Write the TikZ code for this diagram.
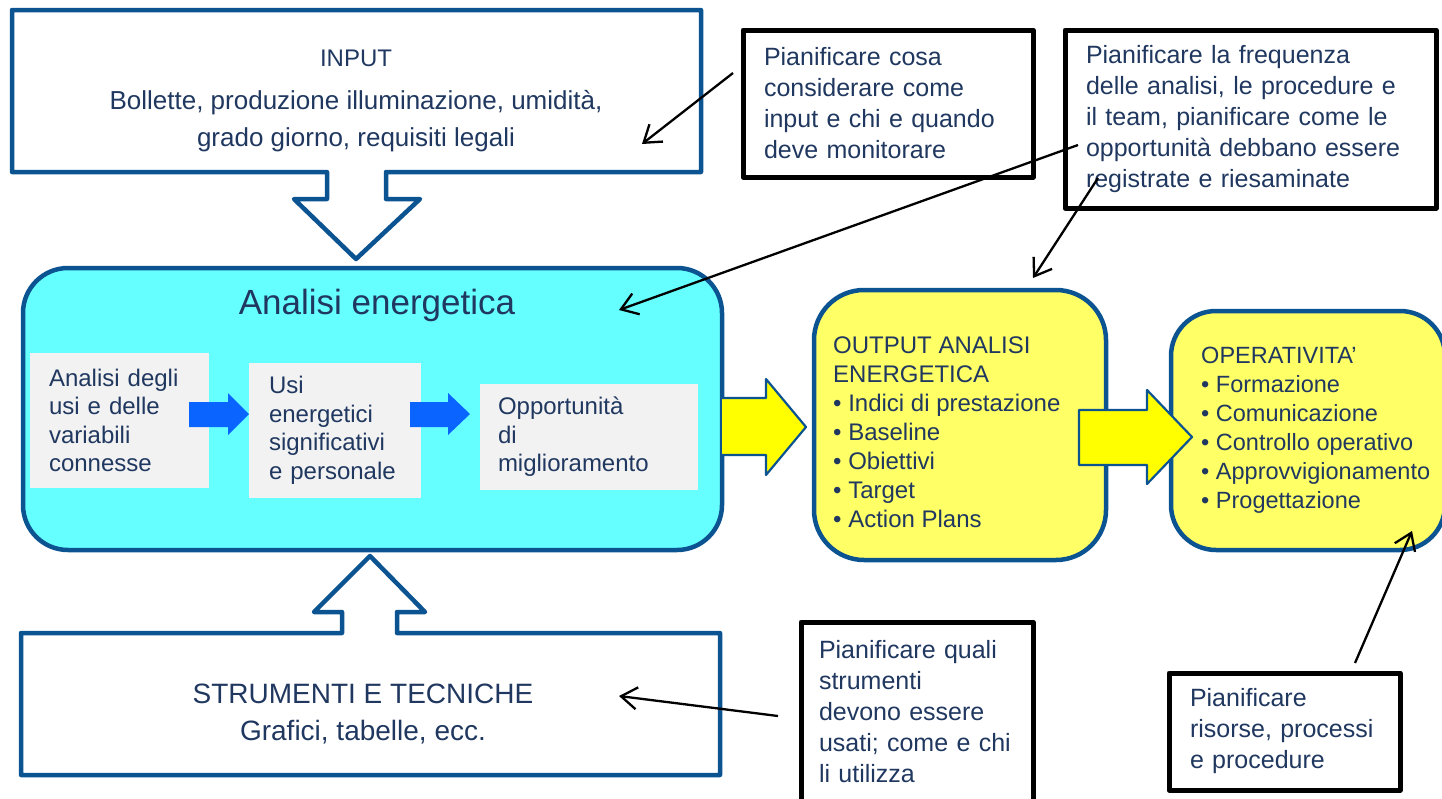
\documentclass[tikz,border=0pt]{standalone}
\usepackage{fontspec}
\setmainfont{Liberation Sans}
\usetikzlibrary{arrows.meta}

\definecolor{boxblue}{RGB}{12,84,145}
\definecolor{ink}{RGB}{32,56,96}
\definecolor{cyanfill}{RGB}{102,255,255}
\definecolor{paleyellow}{RGB}{255,255,102}
\definecolor{arrowyellow}{RGB}{255,255,0}
\definecolor{arrowblue}{RGB}{10,100,255}
\definecolor{panelgray}{RGB}{242,242,242}

\newcommand\setfs[2]{\fontsize{#1}{#2}\selectfont}

\begin{document}
\begin{tikzpicture}[x=1pt,y=-1pt,line join=round,
  every node/.style={text=ink,inner sep=0pt},
  outline/.style={draw=boxblue,line width=4.5pt},
  roundbox/.style={outline,rounded corners=#1},
  inbox/.style={fill=panelgray,align=left,font=\setfs{24}{28.5}},
  callout/.style={draw=black,line width=5pt,fill=white,align=left,font=\setfs{25}{31}},
  bluearrow/.style={fill=arrowblue},
  yellowarrow/.style={fill=arrowyellow,draw=boxblue,line width=2.2pt},
  note/.style={draw=black,line width=2.3pt,-{Straight Barb[length=16pt,width=22pt]}}
]
\useasboundingbox (0,0) rectangle (1442,798);

% INPUT box with its downward block arrow
\draw[outline,fill=white] (12,10) -- (701,10) -- (701,172) -- (386,172) -- (386,199)
  -- (420,199) -- (356,259) -- (294,199) -- (327,199) -- (327,172) -- (12,172) -- cycle;
\node[align=center,font=\setfs{26}{37}] (input) at (356,100.5)
  {{\setfs{24}{29}INPUT}\\[6pt]Bollette, produzione illuminazione, umidità,\\grado giorno, requisiti legali};

% STRUMENTI E TECNICHE box with its upward block arrow
\draw[outline,fill=white] (21,633) -- (342,633) -- (342,612) -- (314,612) -- (370,556)
  -- (425,612) -- (397,612) -- (397,633) -- (720,633) -- (720,775) -- (21,775) -- cycle;
\node[align=center,font=\setfs{28}{37}] (tools) at (363,714)
  {STRUMENTI E TECNICHE\\Grafici, tabelle, ecc.};

% Energy analysis block
\node[roundbox=45pt,fill=cyanfill,minimum width=699pt,minimum height=282pt] (analisi) at (372.5,409) {};
\node[font=\setfs{35}{42}] (title) at (377,305) {Analisi energetica};

\node[inbox,inner xsep=19pt,text width=141pt,minimum height=135pt] (b1) at (119.5,420.5)
  {Analisi degli\\usi e delle\\variabili\\connesse};
\node[inbox,inner xsep=20pt,text width=132pt,minimum height=135pt] (b2) at (335,430.5)
  {Usi\\energetici\\significativi\\e personale};
\node[inbox,inner xsep=18pt,text width=182pt,minimum height=106pt] (b3) at (589,437)
  {Opportunità\\di\\miglioramento};

\path[bluearrow] (189,402) -- (228,402) -- (228,393) -- (249,414) -- (228,435) -- (228,427) -- (189,427) -- cycle;
\path[bluearrow] (410,402) -- (448,402) -- (448,393) -- (470,414) -- (448,435) -- (448,427) -- (410,427) -- cycle;

% Output of the analysis
\path[fill=arrowyellow] (722,398) -- (766,398) -- (766,379) -- (806,427) -- (766,475) -- (766,455) -- (722,455) -- cycle;
\draw[draw=boxblue,line width=2.2pt] (722,398) -- (766,398) -- (766,379) -- (806,427) -- (766,475) -- (766,455) -- (722,455);

\node[roundbox=50pt,fill=paleyellow,minimum width=292pt,minimum height=270pt] (out) at (960,425) {};
\node[anchor=west,align=left,font=\setfs{24}{29}] (outtxt) at (833,432)
  {OUTPUT ANALISI\\ENERGETICA\\• Indici di prestazione\\• Baseline\\• Obiettivi\\• Target\\• Action Plans};

% Operational control
\node[roundbox=45pt,fill=paleyellow,minimum width=274pt,minimum height=239pt] (oper) at (1308,430.5) {};
\node[anchor=west,align=left,font=\setfs{23.5}{29}] (opertxt) at (1201,430.5)
  {OPERATIVITA’\\• Formazione\\• Comunicazione\\• Controllo operativo\\• Approvvigionamento\\• Progettazione};

\draw[yellowarrow] (1079,410) -- (1147,410) -- (1147,390) -- (1192,437) -- (1147,484) -- (1147,465) -- (1079,465) -- cycle;

% Planning notes
\node[callout,inner xsep=21pt,text width=248pt,minimum height=147pt] (c1) at (888,103.5)
  {Pianificare cosa\\considerare come\\input e chi e quando\\deve monitorare};
\node[callout,inner xsep=21pt,text width=329pt,minimum height=178pt] (c2) at (1250.5,119)
  {Pianificare la frequenza\\delle analisi, le procedure e\\il team, pianificare come le\\opportunità debbano essere\\registrate e riesaminate};
\node[callout,inner xsep=18pt,text width=196pt,minimum height=180pt] (c3) at (917,712)
  {Pianificare quali\\strumenti\\devono essere\\usati; come e chi\\li utilizza};
\node[callout,inner xsep=21pt,text width=189pt,minimum height=117pt] (c4) at (1284.5,731.5)
  {Pianificare\\risorse, processi\\e procedure};

% Pointers from the notes
\coordinate (n1s) at (733,73);    \coordinate (n1e) at (642,144);
\coordinate (n2s) at (1078,145);  \coordinate (n2e) at (619,310);
\coordinate (n3s) at (1098,178);  \coordinate (n3e) at (1033,278);
\coordinate (n4s) at (778,716);   \coordinate (n4e) at (619,696);
\coordinate (n5s) at (1355,663);  \coordinate (n5e) at (1412,531);

\draw[note] (n1s) -- (n1e);
\draw[note] (n2s) -- (n2e);
\draw[note] (n3s) -- (n3e);
\draw[note] (n4s) -- (n4e);
\draw[note] (n5s) -- (n5e);
\end{tikzpicture}
\end{document}
